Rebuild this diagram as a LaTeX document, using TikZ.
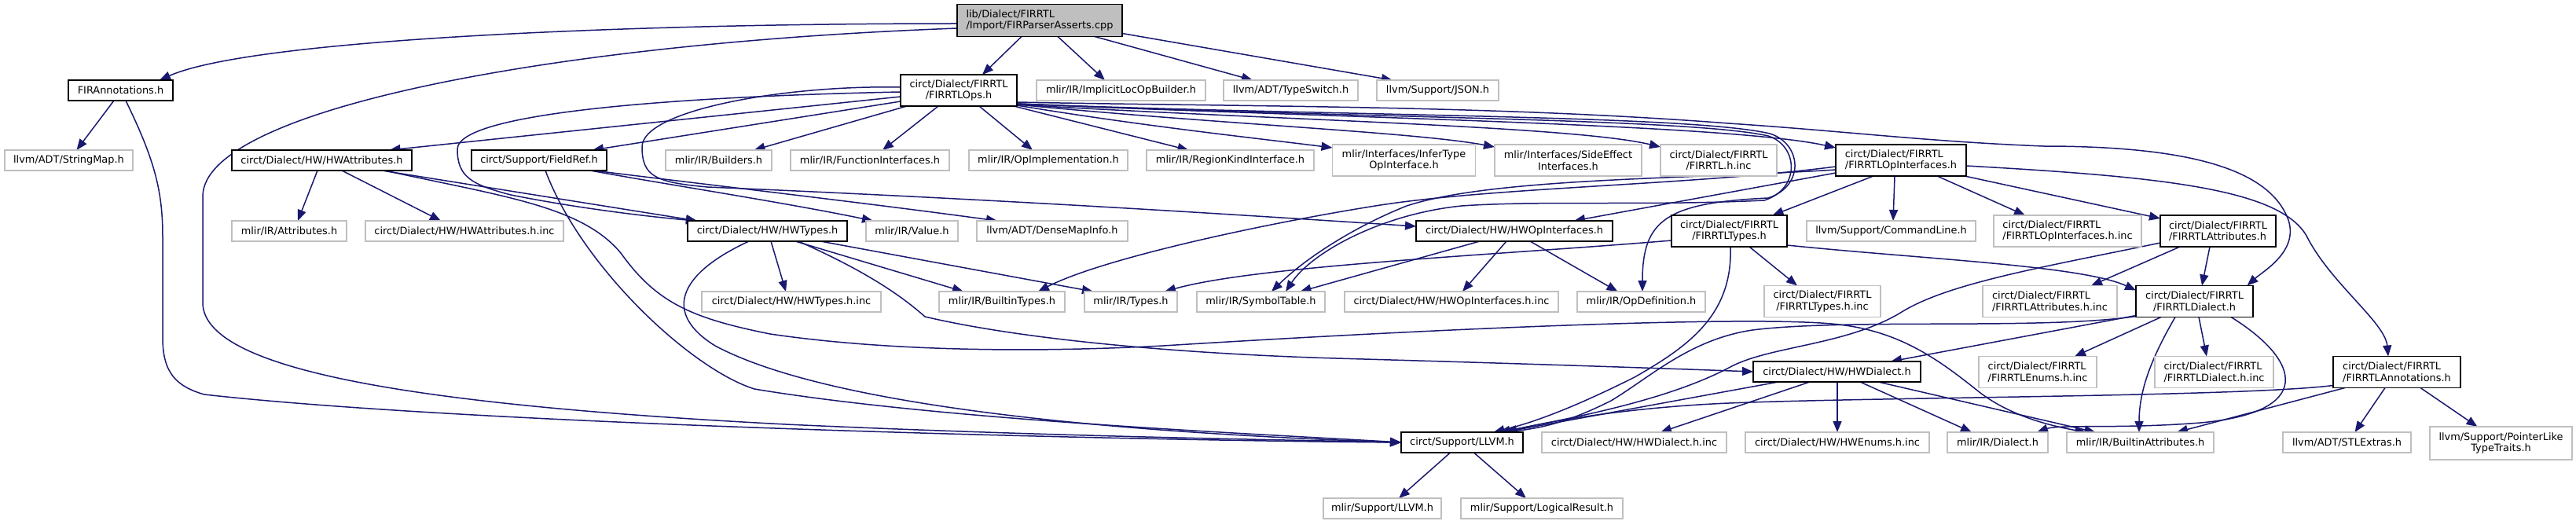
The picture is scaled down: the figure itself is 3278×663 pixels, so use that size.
\documentclass[tikz,border=0pt]{standalone}
\usepackage{fontspec}
\setmainfont{DejaVu Sans}
\usetikzlibrary{arrows.meta,calc}
\definecolor{edgecol}{HTML}{191970}
\definecolor{extgray}{HTML}{BFBFBF}
\pgfdeclarelayer{bg}
\pgfsetlayers{bg,main}
\begin{document}
\begin{tikzpicture}[x=1pt,y=-1pt,
  every node/.style={font=\fontsize{12.9}{14.5}\selectfont, inner sep=0pt, outer sep=0pt},
  ibox/.style={draw=black, line width=1.8pt, fill=white, minimum height=26pt},
  xbox/.style={draw=extgray, line width=1.8pt, fill=white, minimum height=26pt},
  tall/.style={minimum height=40pt},
  rootbox/.style={draw=black, line width=1.8pt, fill=extgray, minimum height=41pt},
  conn/.style={draw=edgecol, line width=1.5pt, -{Triangle[length=14pt,width=11pt]}}]
\useasboundingbox (0,0) rectangle (3278,663);
\begin{pgfonlayer}{bg}
\fill[white] (0,0) rectangle (3278,663);
\end{pgfonlayer}
% row 0
\node[rootbox, align=left, minimum width=210pt] (root) at (1323,26) {lib/Dialect/FIRRTL\\/Import/FIRParserAsserts.cpp};
% row 1
\node[ibox, minimum width=133pt] (firann) at (153.5,115) {FIRAnnotations.h};
\node[ibox, tall, align=center, minimum width=148pt] (ops) at (1220,115) {circt/Dialect/FIRRTL\\/FIRRTLOps.h};
\node[xbox, minimum width=215pt] (implicit) at (1426.5,115) {mlir/IR/ImplicitLocOpBuilder.h};
\node[xbox, minimum width=171pt] (typeswitch) at (1642.5,115) {llvm/ADT/TypeSwitch.h};
\node[xbox, minimum width=155pt] (json) at (1829.5,115) {llvm/Support/JSON.h};
% row 2
\node[xbox, minimum width=163pt] (stringmap) at (87.5,204) {llvm/ADT/StringMap.h};
\node[ibox, minimum width=229pt] (hwattr) at (409.5,204) {circt/Dialect/HW/HWAttributes.h};
\node[ibox, minimum width=172pt] (fieldref) at (686,204) {circt/Support/FieldRef.h};
\node[xbox, minimum width=135pt] (builders) at (914.5,204) {mlir/IR/Builders.h};
\node[xbox, minimum width=202pt] (funcif) at (1107,204) {mlir/IR/FunctionInterfaces.h};
\node[xbox, minimum width=202pt] (opimpl) at (1334,204) {mlir/IR/OpImplementation.h};
\node[xbox, minimum width=213pt] (regionkind) at (1565.5,204) {mlir/IR/RegionKindInterface.h};
\node[xbox, tall, align=center, minimum width=182pt] (infertype) at (1786.5,204) {mlir/Interfaces/InferType\\OpInterface.h};
\node[xbox, tall, align=center, minimum width=187pt] (sideeffect) at (1995.5,204) {mlir/Interfaces/SideEffect\\Interfaces.h};
\node[xbox, tall, align=center, minimum width=148pt] (firrtlinc) at (2187,204) {circt/Dialect/FIRRTL\\/FIRRTL.h.inc};
\node[ibox, tall, align=left, minimum width=166pt] (opif) at (2419,204) {circt/Dialect/FIRRTL\\/FIRRTLOpInterfaces.h};
% row 3
\node[xbox, minimum width=146pt] (attrs) at (368,294) {mlir/IR/Attributes.h};
\node[xbox, minimum width=252pt] (hwattrinc) at (591,294) {circt/Dialect/HW/HWAttributes.h.inc};
\node[ibox, minimum width=203pt] (hwtypes) at (976.5,294) {circt/Dialect/HW/HWTypes.h};
\node[xbox, minimum width=117pt] (value) at (1160.5,294) {mlir/IR/Value.h};
\node[xbox, minimum width=192pt] (densemap) at (1339,294) {llvm/ADT/DenseMapInfo.h};
\node[ibox, minimum width=250pt] (hwopif) at (1927,294) {circt/Dialect/HW/HWOpInterfaces.h};
\node[ibox, tall, align=center, minimum width=147pt] (firtypes) at (2200.5,294) {circt/Dialect/FIRRTL\\/FIRRTLTypes.h};
\node[xbox, minimum width=215pt] (cmdline) at (2406.5,294) {llvm/Support/CommandLine.h};
\node[xbox, tall, align=left, minimum width=188pt] (opifinc) at (2631,294) {circt/Dialect/FIRRTL\\/FIRRTLOpInterfaces.h.inc};
\node[ibox, tall, align=left, minimum width=147pt] (firattrs) at (2822.5,294) {circt/Dialect/FIRRTL\\/FIRRTLAttributes.h};
% row 4
\node[xbox, minimum width=228pt] (hwtypesinc) at (1007,384) {circt/Dialect/HW/HWTypes.h.inc};
\node[xbox, minimum width=160pt] (builtintypes) at (1275,384) {mlir/IR/BuiltinTypes.h};
\node[xbox, minimum width=118pt] (types) at (1439,384) {mlir/IR/Types.h};
\node[xbox, minimum width=163pt] (symtab) at (1604.5,384) {mlir/IR/SymbolTable.h};
\node[xbox, minimum width=272pt] (hwopifinc) at (1847,384) {circt/Dialect/HW/HWOpInterfaces.h.inc};
\node[xbox, minimum width=163pt] (opdef) at (2088.5,384) {mlir/IR/OpDefinition.h};
\node[xbox, tall, align=center, minimum width=148pt] (firtypesinc) at (2319,383.5) {circt/Dialect/FIRRTL\\/FIRRTLTypes.h.inc};
\node[xbox, tall, align=left, minimum width=171pt] (firattrsinc) at (2608.5,383.5) {circt/Dialect/FIRRTL\\/FIRRTLAttributes.h.inc};
\node[ibox, tall, align=center, minimum width=149pt] (firdialect) at (2792.5,383.5) {circt/Dialect/FIRRTL\\/FIRRTLDialect.h};
% row 5
\node[ibox, minimum width=213pt] (hwdialect) at (2337.5,473) {circt/Dialect/HW/HWDialect.h};
\node[xbox, tall, align=left, minimum width=150pt] (enumsinc) at (2593,473.5) {circt/Dialect/FIRRTL\\/FIRRTLEnums.h.inc};
\node[xbox, tall, align=left, minimum width=151pt] (firdialectinc) at (2817.5,473.5) {circt/Dialect/FIRRTL\\/FIRRTLDialect.h.inc};
\node[ibox, tall, align=left, minimum width=162pt] (firann2) at (3050,473.5) {circt/Dialect/FIRRTL\\/FIRRTLAnnotations.h};
% row 6
\node[ibox, minimum width=155pt] (llvm) at (1860.5,563) {circt/Support/LLVM.h};
\node[xbox, minimum width=235pt] (hwdialectinc) at (2079.5,563) {circt/Dialect/HW/HWDialect.h.inc};
\node[xbox, minimum width=234pt] (hwenumsinc) at (2338,563) {circt/Dialect/HW/HWEnums.h.inc};
\node[xbox, minimum width=128pt] (dialect) at (2542,563) {mlir/IR/Dialect.h};
\node[xbox, minimum width=187pt] (builtinattrs) at (2723.5,563) {mlir/IR/BuiltinAttributes.h};
\node[xbox, minimum width=163pt] (stlextras) at (2986.5,563) {llvm/ADT/STLExtras.h};
\node[xbox, minimum height=42pt, align=center, minimum width=181pt] (pointerlike) at (3182.5,564) {llvm/Support/PointerLike\\TypeTraits.h};
% row 7
\node[xbox, minimum width=150pt] (mlirllvm) at (1759,647) {mlir/Support/LLVM.h};
\node[xbox, minimum width=206pt] (logical) at (1962,647) {mlir/Support/LogicalResult.h};

\begin{pgfonlayer}{bg}
% root
\draw[conn] ($(root.west)+(0,4)$) .. controls (800,30) and (320,50) .. ($(firann.north)+(49.5,0)$);
\draw[conn] ($(root.west)+(0,10)$) .. controls (700,55) and (258,140) .. (258,250) -- (258,385) .. controls (258,470) and (520,515) .. (1000,540) .. controls (1350,556) and (1650,560) .. (llvm.west);
\draw[conn] ($(root.south)+(-23,0)$) -- ($(ops.north)+(30,0)$);
\draw[conn] ($(root.south)+(23,0)$) -- ($(implicit.north)+(-20.5,0)$);
\draw[conn] ($(root.south)+(70,0)$) -- ($(typeswitch.north)+(-48.5,0)$);
\draw[conn] ($(root.south east)+(0,-4)$) -- ($(json.north)+(-57.5,0)$);
% FIRAnnotations
\draw[conn] ($(firann.south)+(-8.5,0)$) -- ($(stringmap.north)+(10,0)$);
\draw[conn] ($(firann.south)+(6.5,0)$) .. controls (195,200) and (207,240) .. (207,300) -- (207,430) .. controls (207,475) and (225,492) .. (260,502) .. controls (600,540) and (1400,560) .. (llvm.west);
% FIRRTLOps
\draw[conn] ($(ops.west)+(0,8)$) -- ($(hwattr.north)+(86,0)$);
\draw[conn] ($(ops.west)+(0,14)$) -- ($(fieldref.north)+(68,0)$);
\draw[conn] ($(ops.south west)+(8,0)$) -- ($(builders.north)+(45,0)$);
\draw[conn] ($(ops.south)+(-26,0)$) -- ($(funcif.north)+(16,0)$);
\draw[conn] ($(ops.south)+(26,0)$) -- ($(opimpl.north)+(-20,0)$);
\draw[conn] ($(ops.south east)+(-4,0)$) -- ($(regionkind.north)+(-53,0)$);
\draw[conn] ($(ops.south east)+(0,-1)$) .. controls (1450,160) and (1600,176) .. ($(infertype.north west)+(0,4)$);
\draw[conn] ($(ops.south east)+(0,-2)$) .. controls (1550,158) and (1800,168) .. ($(sideeffect.north west)+(0,3)$);
\draw[conn] ($(ops.south east)+(0,-2)$) .. controls (1600,152) and (2000,160) .. ($(firrtlinc.north west)+(0,3)$);
\draw[conn] ($(ops.south east)+(0,-3)$) .. controls (1700,150) and (2200,158) .. ($(opif.north west)+(0,4)$);
\draw[conn] ($(ops.south east)+(0,-5)$) .. controls (1600,136) and (1900,134) .. (2200,157) .. controls (2350,167) and (2450,180) .. (2600,186) .. controls (2800,186) and (2890,220) .. (2912,280) .. controls (2925,320) and (2880,345) .. ($(firdialect.north)+(67,0)$);
\draw[conn] ($(ops.south east)+(0,-3)$) .. controls (1700,148) and (2150,146) .. (2252,170) .. controls (2292,182) and (2298,236) .. (2250,252) .. controls (2120,258) and (2090,280) .. ($(opdef.north)+(1.5,0)$);
\draw[conn] ($(ops.south east)+(0,-3)$) .. controls (1700,150) and (2150,150) .. (2250,173) .. controls (2288,185) and (2292,240) .. (2245,255) .. controls (2100,262) and (1960,255) .. (1860,262) .. controls (1760,272) and (1670,320) .. ($(symtab.north)+(31.5,0)$);
\draw[conn] ($(ops.west)+(0,-4)$) .. controls (1000,108) and (817,140) .. (817,187) .. controls (817,225) and (835,232) .. (900,238) .. controls (1300,255) and (1600,275) .. ($(hwopif.west)+(0,-6)$);
\draw[conn] ($(ops.west)+(0,2)$) .. controls (900,122) and (582,140) .. (582,190) .. controls (582,225) and (600,235) .. (650,248) .. controls (750,268) and (850,278) .. ($(hwtypes.north west)+(12,0)$);
% HWAttributes
\draw[conn] ($(hwattr.south)+(-5.5,0)$) -- ($(attrs.north)+(11,0)$);
\draw[conn] ($(hwattr.south)+(25.5,0)$) -- ($(hwattrinc.north)+(-30,0)$);
\draw[conn] ($(hwattr.south)+(76.5,0)$) -- ($(hwtypes.north west)+(12,0)$);
\draw[conn] ($(hwattr.south)+(80,0)$) .. controls (640,250) and (740,262) .. (790,322) .. controls (835,385) and (880,405) .. (980,425) .. controls (1150,450) and (1350,447) .. (1480,440) .. controls (1900,414) and (2250,402) .. (2340,413) .. controls (2420,422) and (2470,460) .. (2520,500) .. controls (2560,530) and (2610,542) .. ($(builtinattrs.north)+(-69,0)$);
% FieldRef
\draw[conn] ($(fieldref.south)+(65,0)$) .. controls (850,235) and (1000,258) .. ($(value.north)+(-49.5,0)$);
\draw[conn] ($(fieldref.south)+(69,0)$) .. controls (900,235) and (1100,258) .. ($(densemap.north)+(-70,0)$);
\draw[conn] ($(fieldref.south)+(8,0)$) .. controls (740,340) and (880,470) .. (960,495) .. controls (1200,535) and (1600,552) .. (llvm.west);
% HWTypes
\draw[conn] ($(hwtypes.south)+(4.5,0)$) -- ($(hwtypesinc.north)+(-7,0)$);
\draw[conn] ($(hwtypes.south)+(35.5,0)$) -- ($(builtintypes.north)+(-49,0)$);
\draw[conn] ($(hwtypes.south)+(67.5,0)$) -- ($(types.north)+(-48,0)$);
\draw[conn] ($(hwtypes.south)+(39.5,0)$) .. controls (1090,340) and (1140,370) .. (1177,403) .. controls (1300,432) and (1500,450) .. (1700,456) .. controls (1950,463) and (2150,470) .. (hwdialect.west);
\draw[conn] ($(hwtypes.south)+(-23.5,0)$) .. controls (860,350) and (845,400) .. (910,440) .. controls (1050,515) and (1400,550) .. (llvm.west);
% HWOpInterfaces
\draw[conn] ($(hwopif.south)+(-44,0)$) -- ($(symtab.north)+(50,0)$);
\draw[conn] ($(hwopif.south)+(-10,0)$) -- ($(hwopifinc.north)+(14,0)$);
\draw[conn] ($(hwopif.south)+(20,0)$) -- ($(opdef.north)+(-30,0)$);
% FIRRTLOpInterfaces
\draw[conn] ($(opif.west)+(0,16)$) -- ($(hwopif.north)+(76,0)$);
\draw[conn] ($(opif.south)+(-35,0)$) -- ($(firtypes.north)+(55,0)$);
\draw[conn] ($(opif.south)+(-8,0)$) -- ($(cmdline.north)+(2.5,0)$);
\draw[conn] ($(opif.south)+(46,0)$) -- ($(opifinc.north)+(-54,0)$);
\draw[conn] ($(opif.south east)+(-2,0)$) -- ($(firattrs.north west)+(0,4)$);
\draw[conn] ($(opif.east)+(0,7)$) .. controls (2750,225) and (2900,240) .. (2935,300) .. controls (2965,360) and (3035,410) .. ($(firann2.north)+(-11,0)$);
\draw[conn] ($(opif.west)+(0,8)$) .. controls (2150,236) and (1900,238) .. (1750,262) .. controls (1600,286) and (1400,330) .. ($(builtintypes.north)+(46,0)$);
\draw[conn] ($(opif.west)+(0,12)$) .. controls (2150,228) and (1900,226) .. (1790,262) .. controls (1720,290) and (1660,330) .. ($(symtab.north)+(13.5,0)$);
% FIRRTLTypes
\draw[conn] ($(firtypes.south west)+(0,-8)$) .. controls (1900,325) and (1600,338) .. ($(types.north)+(43,0)$);
\draw[conn] ($(firtypes.south)+(1.5,0)$) .. controls (2205,400) and (2150,440) .. (2080,480) .. controls (2000,520) and (1950,538) .. ($(llvm.north)+(40,0)$);
\draw[conn] ($(firtypes.south)+(25.5,0)$) -- ($(firtypesinc.north)+(-32,0)$);
\draw[conn] ($(firtypes.south east)+(0,-2)$) .. controls (2450,330) and (2650,338) .. ($(firdialect.north west)+(0,6)$);
% FIRRTLAttributes
\draw[conn] ($(firattrs.south)+(-48.5,0)$) -- ($(firattrsinc.north)+(52.5,0)$);
\draw[conn] ($(firattrs.south)+(-10.5,0)$) -- ($(firdialect.north)+(9.5,0)$);
\draw[conn] ($(firattrs.south west)+(0,-5)$) .. controls (2600,340) and (2480,360) .. (2420,397) .. controls (2350,440) and (2250,440) .. (2200,468) .. controls (2120,510) and (2000,532) .. ($(llvm.north)+(47,0)$);
% FIRRTLDialect
\draw[conn] ($(firdialect.south west)+(0,-2)$) -- ($(hwdialect.north)+(68.5,0)$);
\draw[conn] ($(firdialect.south)+(-42.5,0)$) -- ($(enumsinc.north)+(47,0)$);
\draw[conn] ($(firdialect.south)+(5.5,0)$) -- ($(firdialectinc.north)+(-9.5,0)$);
\draw[conn] ($(firdialect.south)+(-24.5,0)$) .. controls (2735,460) and (2722,500) .. ($(builtinattrs.north)+(-1.5,0)$);
\draw[conn] ($(firdialect.south)+(46.5,0)$) .. controls (2930,460) and (2945,525) .. (2800,538) .. controls (2700,546) and (2620,540) .. ($(dialect.north)+(50,0)$);
\draw[conn] ($(firdialect.south west)+(0,-1)$) .. controls (2600,420) and (2350,405) .. (2230,420) .. controls (2150,432) and (2100,480) .. (2050,510) .. controls (2000,535) and (1965,545) .. ($(llvm.north)+(50,0)$);
% HWDialect
\draw[conn] ($(hwdialect.south west)+(32,0)$) -- ($(llvm.north)+(53,0)$);
\draw[conn] ($(hwdialect.south)+(-34.5,0)$) -- ($(hwdialectinc.north)+(33.5,0)$);
\draw[conn] ($(hwdialect.south)+(0.5,0)$) -- (hwenumsinc.north);
\draw[conn] ($(hwdialect.south)+(29.5,0)$) -- ($(dialect.north)+(-33,0)$);
\draw[conn] ($(hwdialect.south)+(52.5,0)$) -- ($(builtinattrs.north)+(-57,0)$);
% FIRRTLAnnotations
\draw[conn] ($(firann2.west)+(0,17)$) .. controls (2850,505) and (2400,505) .. (2200,513) .. controls (2080,518) and (1975,535) .. ($(llvm.north)+(56,0)$);
\draw[conn] ($(firann2.south west)+(15,0)$) -- ($(builtinattrs.north)+(46.5,0)$);
\draw[conn] ($(firann2.south)+(-15,0)$) -- ($(stlextras.north)+(10,0)$);
\draw[conn] ($(firann2.south)+(30,0)$) -- ($(pointerlike.north)+(-30,0)$);
% LLVM
\draw[conn] ($(llvm.south)+(-15,0)$) -- ($(mlirllvm.north)+(21,0)$);
\draw[conn] ($(llvm.south)+(15,0)$) -- ($(logical.north)+(-20,0)$);
\end{pgfonlayer}
\end{tikzpicture}
\end{document}
